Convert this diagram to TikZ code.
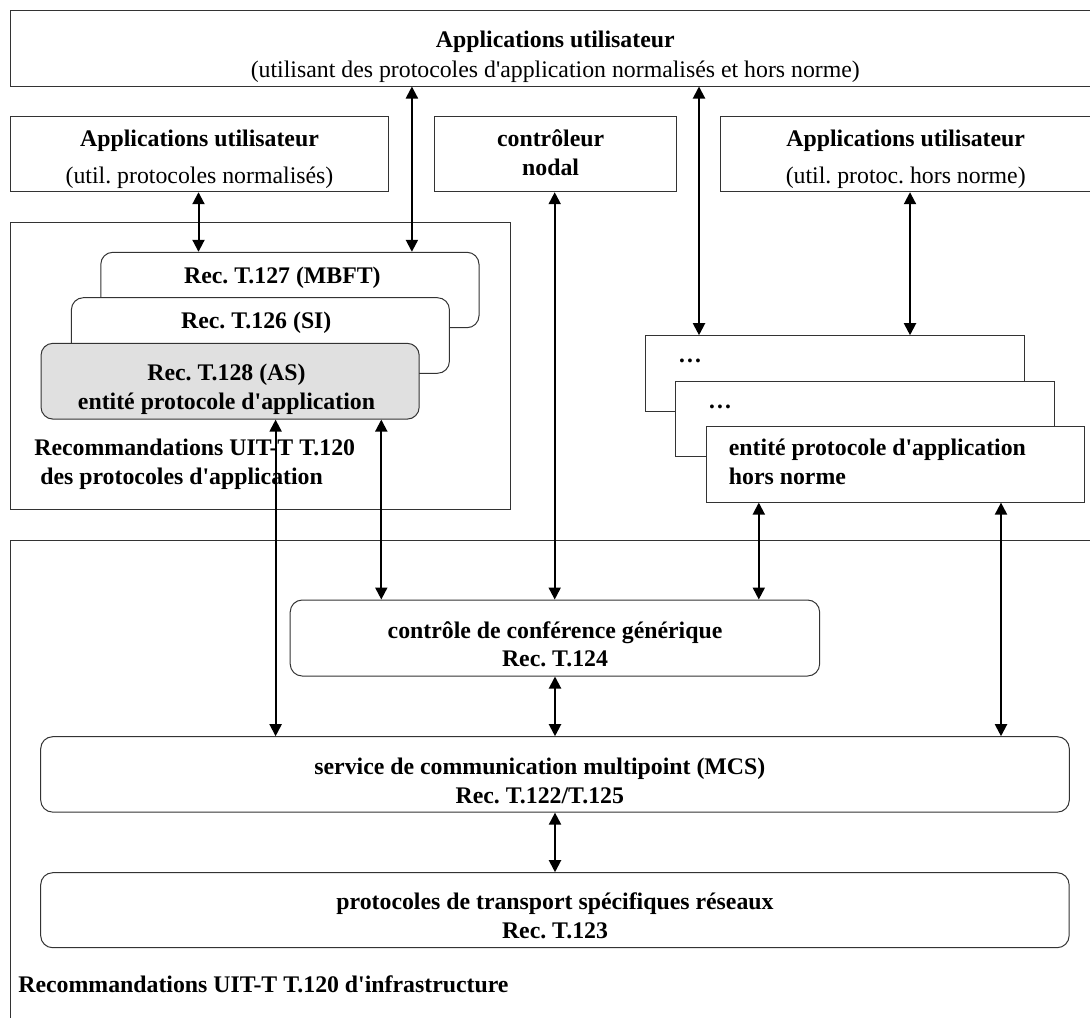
\documentclass[tikz,border=0pt]{standalone}
\usepackage{fontspec}
\setmainfont{Liberation Serif}
\usetikzlibrary{arrows.meta}

\tikzset{
	box/.style={draw=black!80, line width=0.5pt, fill=white, inner sep=0pt},
	rbox/.style={box, rounded corners=6pt},
	txt/.style={inner sep=0pt, anchor=base, align=center, font=\fontsize{11.9}{14.2}\selectfont},
	ltxt/.style={txt, align=left, anchor=base west},
	link/.style={{Triangle[length=6pt,width=6pt]}-{Triangle[length=6pt,width=6pt]}, line width=1pt},
}
\newcommand{\ap}{\textquotesingle}
\frenchspacing

\begin{document}
\begin{tikzpicture}[x=0.5pt,y=-0.5pt]
	\useasboundingbox (0,0) rectangle (1090,1017);
	
	% Applications on top
	\node[box, minimum width=544.8pt, minimum height=38pt] (top) at (555.2,48) {};
	\node[box, minimum width=189.1pt, minimum height=37.5pt] (appn) at (199.5,154.2) {};
	\node[box, minimum width=121pt, minimum height=37.5pt] (nodal) at (555.5,154.2) {};
	\node[box, minimum width=189.8pt, minimum height=37.5pt] (apph) at (910.3,154.2) {};
	
	% Outer frames
	\node[box, minimum width=249.8pt, minimum height=143.5pt] (grp) at (260.2,365.8) {};
	\node[box, minimum width=544.8pt, minimum height=245pt] (infra) at (555.2,785) {};
	
	% Standard application protocols (stacked)
	\node[rbox, minimum width=189.1pt, minimum height=37.7pt] (t127) at (289.9,290) {};
	\node[rbox, minimum width=189pt, minimum height=37.8pt] (t126) at (260.4,335.5) {};
	\node[rbox, fill=black!12, minimum width=189.1pt, minimum height=37.9pt] (t128) at (230.1,381.2) {};
	
	% Non standard protocols (stacked)
	\node[box, minimum width=189.2pt, minimum height=37.7pt] (d1) at (834.8,373.4) {};
	\node[box, minimum width=189.2pt, minimum height=37.7pt] (d2) at (865.1,418.9) {};
	\node[box, minimum width=189.2pt, minimum height=37.7pt] (d3) at (895.3,464.4) {};
	
	% Infrastructure
	\node[rbox, minimum width=264.7pt, minimum height=38pt] (gcc) at (554.9,638) {};
	\node[rbox, minimum width=514.3pt, minimum height=37.7pt] (mcs) at (555,774.4) {};
	\node[rbox, minimum width=514.2pt, minimum height=37.5pt] (tpt) at (554.9,910.2) {};
	
	% Texts (base = last line)
	\node[txt] (toptxt) at (555.3,77.3) {\textbf{Applications utilisateur}\\[0.6pt](utilisant des protocoles d\ap application normalisés et hors norme)};
	\node[txt] (appntxt) at (199.5,183.3) {\textbf{Applications utilisateur}\\[4.1pt](util. protocoles normalisés)};
	\node[txt] (nodaltxt) at (550.6,175) {\textbf{contrôleur}\\\textbf{nodal}};
	\node[txt] (apphtxt) at (905.7,183.3) {\textbf{Applications utilisateur}\\[4.1pt](util. protoc. hors norme)};
	\node[txt] (t127txt) at (282.4,283.3) {\textbf{Rec. T.127 (MBFT)}};
	\node[txt] (t126txt) at (256.3,328.3) {\textbf{Rec. T.126 (SI)}};
	\node[txt] (t128txt) at (226.5,409) {\textbf{Rec. T.128 (AS)}\\\textbf{entité protocole d\ap application}};
	\node[ltxt] (grptxt) at (34,484.3) {\textbf{Recommandations UIT-T T.120}\\\textbf{\ des protocoles d\ap application}};
	\node[txt] (d1txt) at (690,362.7) {\textbf{\dots}};
	\node[txt] (d2txt) at (720,408.3) {\textbf{\dots}};
	\node[ltxt] (d3txt) at (728.5,484.3) {\textbf{entité protocole d\ap application}\\\textbf{hors norme}};
	\node[txt] (gcctxt) at (555,666.7) {\textbf{contrôle de conférence générique}\\\textbf{Rec. T.124}};
	\node[txt] (mcstxt) at (539.8,803) {\textbf{service de communication multipoint (MCS)}\\\textbf{Rec. T.122/T.125}};
	\node[txt] (tpttxt) at (555,938.3) {\textbf{protocoles de transport spécifiques réseaux}\\\textbf{Rec. T.123}};
	\node[ltxt] (infratxt) at (18,992.7) {\textbf{Recommandations UIT-T T.120 d\ap infrastructure}};
	
	% Arrows
	\foreach \x/\a/\b in {198.5/appn/t127, 411.9/top/t127, 554.7/nodal/gcc, 699/top/d1, 910/apph/d1,
		275.6/t128/mcs, 381.3/t128/gcc, 758.8/d3/gcc, 1001/d3/mcs, 555/gcc/mcs, 555/mcs/tpt} {
		\draw[link] (\a.south -| \x,0) -- (\b.north -| \x,0);
	}
	
\end{tikzpicture}
\end{document}
